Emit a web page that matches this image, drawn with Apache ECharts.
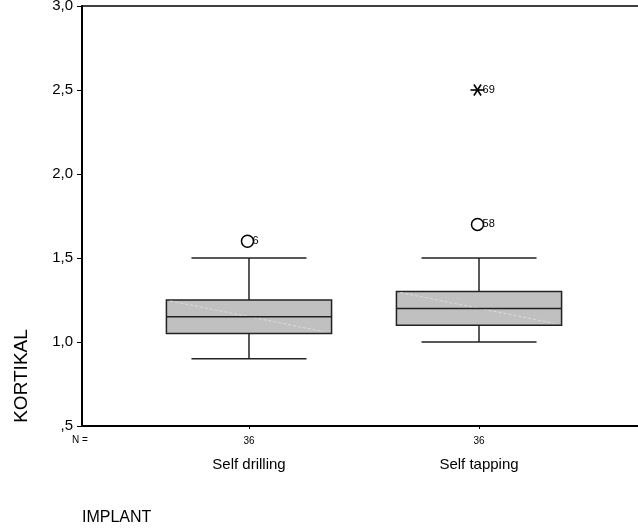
<!DOCTYPE html>
<html>
<head>
<meta charset="utf-8">
<script src="https://cdn.jsdelivr.net/npm/echarts@6/dist/echarts.min.js"></script>
<style>html,body{margin:0;padding:0;background:#fff;}#c{width:638px;height:528px;}</style>
</head>
<body>
<div id="c"></div>
<script>
// ---- data ----
var categories = ['Self drilling', 'Self tapping'];
var groupPos = [1, 2];
var counts = [36, 36];
var boxLow = [0.9, 1.0];
var boxQ1 = [1.05, 1.1];
var boxMedian = [1.15, 1.2];
var boxQ3 = [1.25, 1.3];
var boxHigh = [1.5, 1.5];
var outlierGroup = [1, 2];
var outlierValue = [1.6, 1.7];
var outlierCase = ['6', '58'];
var extremeGroup = [2];
var extremeValue = [2.5];
var extremeCase = ['69'];
var yTicks = [0.5, 1.0, 1.5, 2.0, 2.5, 3.0];

var FONT = 'Liberation Sans, Arial, sans-serif';

var boxData = groupPos.map(function (g, i) {
  return [g, boxLow[i], boxQ1[i], boxMedian[i], boxQ3[i], boxHigh[i]];
});
var outData = outlierGroup.map(function (g, i) { return [g, outlierValue[i], outlierCase[i]]; });
var extData = extremeGroup.map(function (g, i) { return [g, extremeValue[i], extremeCase[i]]; });

function renderBox(params, api) {
  var x = api.value(0);
  var pLow = api.coord([x, api.value(1)]);
  var pQ1 = api.coord([x, api.value(2)]);
  var pMed = api.coord([x, api.value(3)]);
  var pQ3 = api.coord([x, api.value(4)]);
  var pHigh = api.coord([x, api.value(5)]);
  var boxL = api.coord([x - 0.359, 0])[0];
  var boxR = api.coord([x + 0.359, 0])[0];
  var capL = api.coord([x - 0.25, 0])[0];
  var capR = api.coord([x + 0.25, 0])[0];
  var cx = pMed[0];
  var stroke = { stroke: '#222', lineWidth: 1.5 };
  return {
    type: 'group',
    children: [
      { type: 'line', shape: { x1: cx, y1: pQ3[1], x2: cx, y2: pHigh[1] }, style: stroke },
      { type: 'line', shape: { x1: cx, y1: pQ1[1], x2: cx, y2: pLow[1] }, style: stroke },
      { type: 'line', shape: { x1: capL, y1: pHigh[1], x2: capR, y2: pHigh[1] }, style: stroke },
      { type: 'line', shape: { x1: capL, y1: pLow[1], x2: capR, y2: pLow[1] }, style: stroke },
      { type: 'rect', shape: { x: boxL, y: pQ3[1], width: boxR - boxL, height: pQ1[1] - pQ3[1] },
        style: { fill: '#c0c0c0', stroke: '#222', lineWidth: 1.5 } },
      { type: 'line', shape: { x1: boxL + 4, y1: pQ3[1] + 1, x2: boxR - 8, y2: pQ1[1] - 2 },
        style: { stroke: '#dcdcdc', lineWidth: 1, lineDash: [3, 2] } },
      { type: 'line', shape: { x1: boxL, y1: pMed[1], x2: boxR, y2: pMed[1] }, style: stroke }
    ]
  };
}

function renderOutlier(params, api) {
  var p = api.coord([api.value(0), api.value(1)]);
  var cx = p[0] - 1.5;
  return {
    type: 'group',
    children: [
      { type: 'circle', shape: { cx: cx, cy: p[1], r: 6 }, style: { fill: '#fff', stroke: '#000', lineWidth: 1.5 } },
      { type: 'text', x: cx + 5, y: p[1], style: { text: api.value(2), fontSize: 11, fontFamily: FONT, fill: '#000', verticalAlign: 'middle', align: 'left' } }
    ]
  };
}

function renderExtreme(params, api) {
  var p = api.coord([api.value(0), api.value(1)]);
  var cx = p[0] - 1.5;
  var r = 5.5;
  var s = { stroke: '#000', lineWidth: 1.6 };
  return {
    type: 'group',
    children: [
      { type: 'line', shape: { x1: cx - r - 1.5, y1: p[1], x2: cx + r + 1.5, y2: p[1] }, style: s },
      { type: 'line', shape: { x1: cx - r * 0.65, y1: p[1] - r, x2: cx + r * 0.65, y2: p[1] + r }, style: s },
      { type: 'line', shape: { x1: cx - r * 0.65, y1: p[1] + r, x2: cx + r * 0.65, y2: p[1] - r }, style: s },
      { type: 'text', x: cx + 5, y: p[1], style: { text: api.value(2), fontSize: 11, fontFamily: FONT, fill: '#000', verticalAlign: 'middle', align: 'left' } }
    ]
  };
}

var chart = echarts.init(document.getElementById('c'), null, { renderer: 'canvas' });
chart.setOption({
  animation: false,
  backgroundColor: '#fff',
  textStyle: { fontFamily: FONT },
  grid: {
    left: 82, top: 6, width: 564, height: 420,
    show: true, borderColor: '#000', borderWidth: 1.5,
    outerBoundsMode: 'none', containLabel: false
  },
  xAxis: {
    type: 'value',
    min: 0.274, max: 2.726,
    splitLine: { show: false },
    axisLine: { show: true, lineStyle: { color: '#000', width: 2 } },
    axisTick: { show: true, customValues: groupPos, length: 3, lineStyle: { color: '#000', width: 1 } },
    axisLabel: {
      customValues: groupPos,
      margin: 8,
      color: '#000',
      formatter: function (v) {
        var i = groupPos.indexOf(v);
        if (i < 0) return '';
        return '{n|' + counts[i] + '}\n{c|' + categories[i] + '}';
      },
      rich: {
        n: { fontSize: 10, lineHeight: 14, fontFamily: FONT, color: '#000' },
        c: { fontSize: 15, lineHeight: 34, fontFamily: FONT, color: '#000' }
      }
    }
  },
  yAxis: {
    type: 'value',
    min: 0.5, max: 3.0, interval: 0.5,
    splitLine: { show: false },
    axisLine: { show: true, lineStyle: { color: '#000', width: 2 } },
    axisTick: { show: true, length: 5, lineStyle: { color: '#000', width: 1 } },
    axisLabel: {
      color: '#000', fontSize: 15, fontFamily: FONT, margin: 9,
      customValues: yTicks,
      formatter: function (v) {
        var s = v.toFixed(1).replace('.', ',');
        if (s.charAt(0) === '0') s = s.substring(1);
        return s;
      }
    }
  },
  graphic: [
    { type: 'text', left: 72, top: 435, style: { text: 'N =', fontSize: 10, fontFamily: FONT, fill: '#000' } },
    { type: 'text', left: 82, top: 510, style: { text: 'IMPLANT', fontSize: 16, fontFamily: FONT, fill: '#000' } },
    { type: 'text', x: 22, y: 376, rotation: Math.PI / 2, style: { text: 'KORTIKAL', fontSize: 19, fontFamily: FONT, fill: '#000', align: 'center', verticalAlign: 'middle' } }
  ],
  series: [
    { type: 'custom', renderItem: renderBox, data: boxData, encode: { x: 0, y: [1, 2, 3, 4, 5] }, z: 2 },
    { type: 'custom', renderItem: renderOutlier, data: outData, encode: { x: 0, y: 1 }, z: 3 },
    { type: 'custom', renderItem: renderExtreme, data: extData, encode: { x: 0, y: 1 }, z: 3 }
  ]
});
</script>
</body>
</html>
